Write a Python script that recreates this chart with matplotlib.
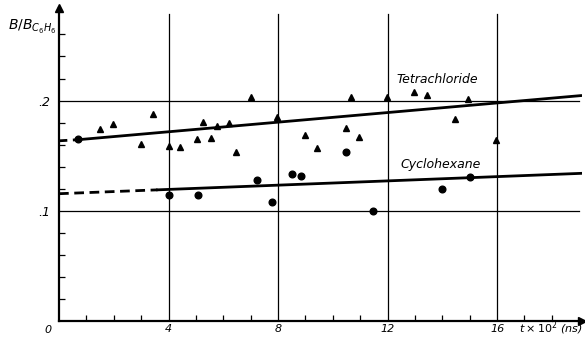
import matplotlib
matplotlib.use("Agg")
import matplotlib.pyplot as plt
import numpy as np

plt.rcParams["mathtext.fontset"] = "dejavusans"

# Tetrachloride (triangles)
tet_t = [1.5, 1.97, 3.0, 3.43, 4.01, 4.42, 5.04, 5.26, 5.55, 5.77, 6.2, 6.46, 7.0,
         7.96, 8.98, 9.42, 10.47, 10.66, 10.95, 11.97, 12.96, 13.43, 14.45, 14.93, 15.95]
tet_b = [0.174, 0.179, 0.161, 0.188, 0.159, 0.158, 0.165, 0.181, 0.166, 0.177, 0.180,
         0.153, 0.203, 0.185, 0.169, 0.157, 0.175, 0.203, 0.167, 0.203, 0.208, 0.205,
         0.183, 0.201, 0.164]

# Cyclohexane (dots)
cyc_t = [0.7, 4.01, 5.07, 7.23, 7.77, 8.5, 8.83, 10.47, 11.46, 13.98, 15.0]
cyc_b = [0.165, 0.114, 0.114, 0.128, 0.108, 0.133, 0.132, 0.153, 0.100, 0.120, 0.131]

# fitted lines: (dashed start, solid start, end) and values there
tet_line_t = [0.0, 0.7, 19.05]
tet_line_b = [0.1635, 0.1645, 0.2045]
cyc_line_t = [0.0, 3.6, 19.1]
cyc_line_b = [0.1155, 0.119, 0.134]

x_labels = ["4", "8", "12", "16"]
x_major = [4, 8, 12, 16]
y_major = [0.1, 0.2]
y_labels = [".1", ".2"]

W, H = 585, 337
fig = plt.figure(figsize=(W / 100, H / 100), dpi=100)
x0, x1, y0, y1 = 59, 582, 321, 8
ax = fig.add_axes([x0 / W, 1 - y0 / H, (x1 - x0) / W, (y0 - y1) / H])
ax.set_xlim(0, 19.1)
ax.set_ylim(0, 0.284)

for s in ["top", "right"]:
    ax.spines[s].set_visible(False)
for s in ["left", "bottom"]:
    ax.spines[s].set_linewidth(1.6)
    ax.spines[s].set_color("black")

# arrow heads
ax.plot(1, 0, ">k", transform=ax.transAxes, clip_on=False, markersize=6)
ax.plot(0, 1, "^k", transform=ax.transAxes, clip_on=False, markersize=6)

# grid lines
for xv in x_major:
    ax.plot([xv, xv], [0, 0.279], color="black", lw=0.9)
for yv in y_major:
    ax.plot([0, 19.0], [yv, yv], color="black", lw=0.9)

# fit lines
ax.plot(tet_line_t[:2], tet_line_b[:2], color="black", lw=2, ls=(0, (3, 2)))
ax.plot(tet_line_t[1:], tet_line_b[1:], color="black", lw=2)
ax.plot(cyc_line_t[:2], cyc_line_b[:2], color="black", lw=2, ls=(0, (3.5, 2)))
ax.plot(cyc_line_t[1:], cyc_line_b[1:], color="black", lw=2)

ax.plot(tet_t, tet_b, "^", color="black", markersize=4.5, ls="none")
ax.plot(cyc_t, cyc_b, "o", color="black", markersize=4.8, ls="none")

ax.text(13.8, 0.219, "Tetrachloride", fontsize=9, style="italic", ha="center", va="center")
ax.text(13.95, 0.142, "Cyclohexane", fontsize=9, style="italic", ha="center", va="center")

# ticks
ax.set_xticks(x_major)
ax.set_xticklabels(x_labels, fontsize=8, style="italic")
ax.set_xticks(np.arange(1, 19), minor=True)
ax.tick_params(axis="x", which="major", length=0, pad=2)
ax.tick_params(axis="x", which="minor", direction="in", length=4, width=0.9)
ax.set_yticks(y_major)
ax.set_yticklabels(y_labels, fontsize=9, style="italic")
ax.set_yticks(np.arange(0.02, 0.27, 0.02), minor=True)
ax.tick_params(axis="y", which="major", length=0, pad=6)
ax.tick_params(axis="y", which="minor", direction="in", length=4, width=0.9)

ax.text(-0.4, -0.004, "0", fontsize=8, style="italic", ha="center", va="top")
ax.text(16.8, -0.0105, r"$t\times10^2$ (ns)", fontsize=8, style="italic",
        ha="left", va="baseline")
fig.text(32 / W, 1 - 27 / H, r"$B/B_{C_6H_6}$", fontsize=10, ha="center", va="center")

fig.savefig("out.png", dpi=100)
